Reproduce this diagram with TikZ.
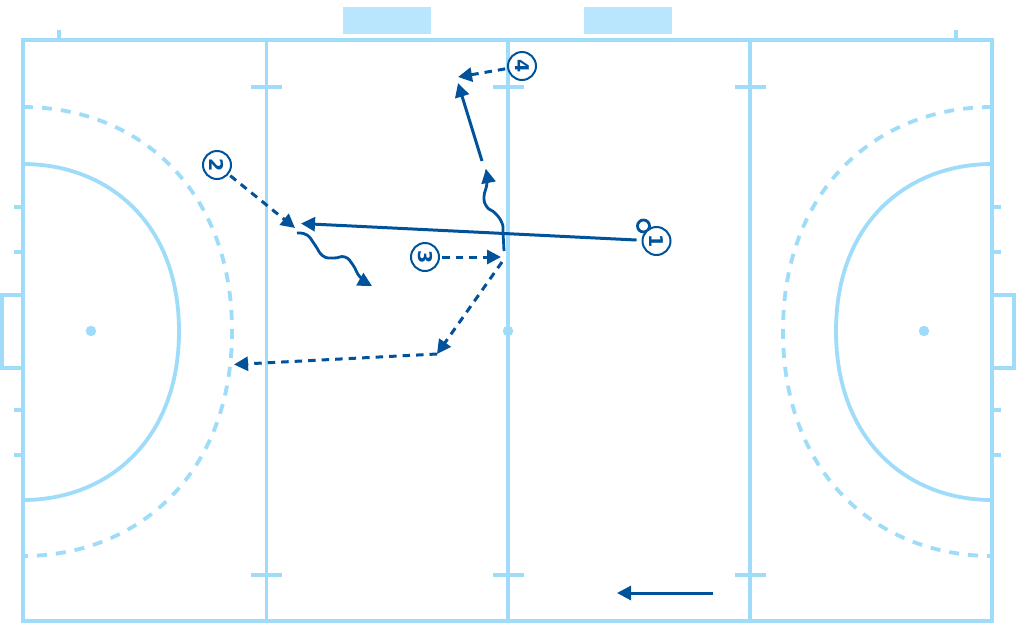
\documentclass[tikz,border=0pt]{standalone}
\usepackage{fontspec}
\setmainfont{DejaVu Sans}
\usetikzlibrary{arrows.meta}
\definecolor{fieldblue}{HTML}{9FDCF9}
\definecolor{boxblue}{HTML}{B9E6FC}
\definecolor{playblue}{HTML}{00529B}
\tikzset{
  fieldline/.style={draw=fieldblue,line width=3.8pt,line join=miter},
  fieldthin/.style={draw=fieldblue,line width=3.4pt},
  fielddash/.style={draw=fieldblue,line width=3.8pt,dash pattern=on 10pt off 9pt},
  spot/.style={circle,fill=fieldblue,inner sep=0pt,minimum size=10.5pt},
  bench/.style={fill=boxblue,draw=none},
  playernode/.style={circle,draw=playblue,line width=2pt,fill=white,inner sep=0pt,minimum size=28pt,outer sep=3pt,
     text=playblue,font=\fontsize{19}{19}\selectfont\bfseries},
  puck/.style={circle,draw=playblue,line width=2.8pt,fill=white,inner sep=0pt,minimum size=12pt},
  mv/.style={draw=playblue,line width=3pt,-{Triangle[length=14pt,width=14pt]}},
  mvdash/.style={mv,dash pattern=on 7.5pt off 6pt},
}
\begin{document}
\begin{tikzpicture}[x=1pt,y=-1pt]
\useasboundingbox (0,0) rectangle (1021,622);
\fill[white] (0,0) rectangle (1021,622);
% benches
\fill[bench] (343,7) rectangle (431,34);
\fill[bench] (584,7) rectangle (672,34);
% ticks outside
\foreach \x in {59,956} \draw[fieldthin] (\x,30) -- (\x,40);
\foreach \y in {207,252,410,455} {
  \draw[fieldthin] (14,\y) -- (23,\y);
  \draw[fieldthin] (992,\y) -- (1001,\y);
}
% goals
\draw[fieldline] (23,295) -- (2,295) -- (2,368) -- (23,368);
\draw[fieldline] (992,295) -- (1014,295) -- (1014,368) -- (992,368);
% D's
\draw[fieldline] (23,164) .. controls (106,164) and (179,221) .. (179,331) .. controls (179,442) and (106,500) .. (23,500);
\draw[fieldline] (992,164) .. controls (909,164) and (836,221) .. (836,331) .. controls (836,442) and (909,500) .. (992,500);
\draw[fielddash] (23,107) .. controls (136,107) and (232,187) .. (232,331) .. controls (232,476) and (136,556) .. (23,556);
\draw[fielddash] (992,107) .. controls (879,107) and (783,187) .. (783,331) .. controls (783,476) and (879,556) .. (992,556);
% lines
\foreach \x in {266.5,508,750} {
  \draw[fieldline] (\x,40) -- (\x,621);
  \draw[fieldthin] (\x-15.5,87) -- (\x+15.5,87);
  \draw[fieldthin] (\x-15.5,575) -- (\x+15.5,575);
}
\draw[fieldline] (23,40) rectangle (992,621);
% spots
\node[spot] (spotL) at (91,331) {};
\node[spot] (spotC) at (508,331) {};
\node[spot] (spotR) at (924,331) {};
% players
\node[puck] (ball) at (643.5,226) {};
\node[playernode] (p1) at (656.5,241) {\rotatebox{-90}{1}};
\node[playernode] (p2) at (217,165) {\rotatebox{-90}{2}};
\node[playernode] (p3) at (425,257) {\rotatebox{-90}{3}};
\node[playernode] (p4) at (522,66) {\rotatebox{-90}{4}};
% named ends
\coordinate (passEnd) at (301,223.5);
\coordinate (twoEnd) at (295,228);
\coordinate (threeEnd) at (501,257);
\coordinate (runS) at (482,161);
\coordinate (runT) at (458,83);
\coordinate (fourEnd) at (458,77);
\coordinate (cutS) at (502,262);
\coordinate (cutT) at (437,354);
\coordinate (longT) at (234,364.5);
\coordinate (legS) at (713,593);
\coordinate (legT) at (617,593);
% connectors
\draw[mv,shorten <=3pt] (p1) -- (passEnd);
\draw[mvdash] (p2) -- (twoEnd);
\draw[mv,line width=2.8pt] plot[smooth,tension=.8] coordinates {(297,233) (307,235) (315,245) (323,256) (334,258) (345,257) (353,265) (360,277) (372,286)};
\draw[mvdash] (p3) -- (threeEnd);
\draw[mv,line width=2.8pt] plot[smooth,tension=.8] coordinates {(504,251) (503,233) (502,223) (495,213) (487,207) (484,197) (487,183) (486,169)};
\draw[mv] (runS) -- (runT);
\draw[mvdash] (p4) -- (fourEnd);
\draw[mvdash] (cutS) -- (cutT);
\draw[mvdash] (cutT) -- (longT);
\draw[mv] (legS) -- (legT);
\end{tikzpicture}
\end{document}
